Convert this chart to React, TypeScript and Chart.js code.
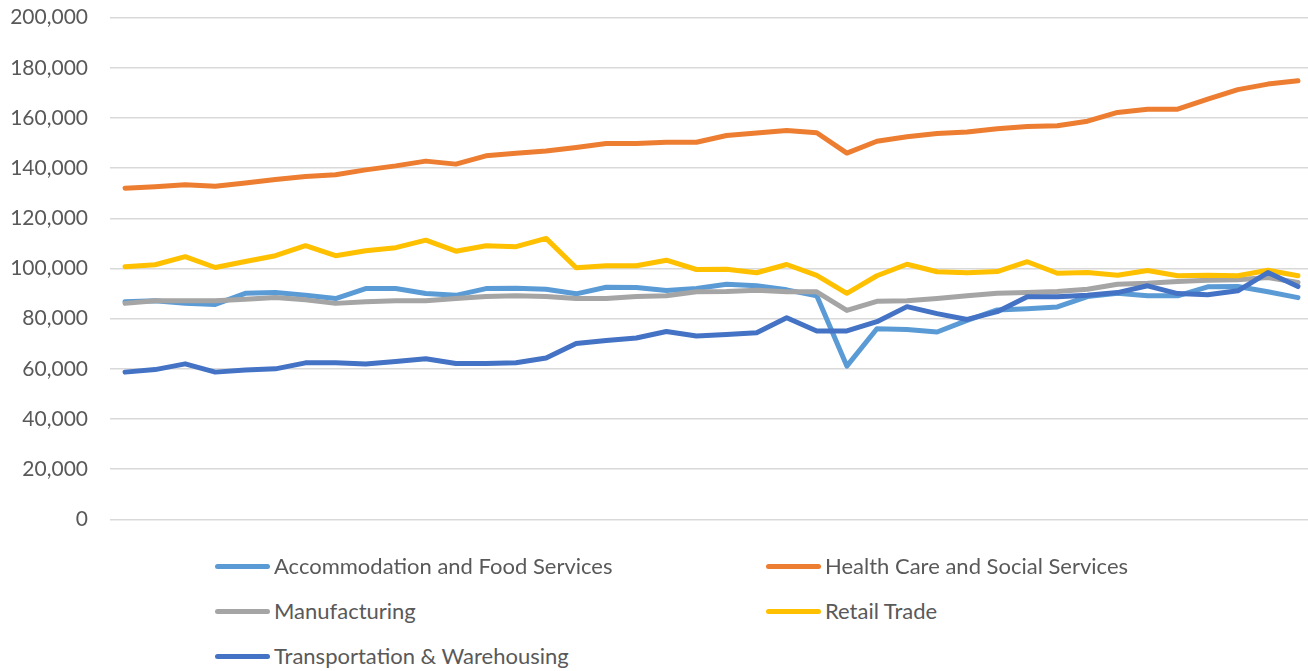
import React, { useEffect, useRef } from "react";
import { Chart, registerables } from "chart.js";

Chart.register(...registerables);

const quarters: string[] = [
  "2014 Q2", "2014 Q3", "2014 Q4", "2015 Q1", "2015 Q2", "2015 Q3", "2015 Q4", "2016 Q1",
  "2016 Q2", "2016 Q3", "2016 Q4", "2017 Q1", "2017 Q2", "2017 Q3", "2017 Q4", "2018 Q1",
  "2018 Q2", "2018 Q3", "2018 Q4", "2019 Q1", "2019 Q2", "2019 Q3", "2019 Q4", "2020 Q1",
  "2020 Q2", "2020 Q3", "2020 Q4", "2021 Q1", "2021 Q2", "2021 Q3", "2021 Q4", "2022 Q1",
  "2022 Q2", "2022 Q3", "2022 Q4", "2023 Q1", "2023 Q2", "2023 Q3", "2023 Q4", "2024 Q1",
];

const accommodation: number[] = [
  86700, 87100, 86100, 85700, 90100, 90400, 89300, 88000, 92000, 92000,
  90000, 89300, 92000, 92100, 91700, 89900, 92500, 92400, 91200, 92000,
  93700, 93100, 91500, 89100, 61100, 76000, 75700, 74700, 79300, 83500,
  84000, 84700, 88800, 90100, 89100, 89100, 92700, 92800, 90700, 88400,
];

const healthCare: number[] = [
  132000, 132600, 133400, 132800, 134100, 135500, 136700, 137400, 139300, 140900,
  142800, 141600, 144900, 145900, 146800, 148200, 149800, 149800, 150300, 150300,
  153000, 154000, 155000, 154100, 146000, 150700, 152500, 153800, 154400, 155700,
  156600, 156900, 158700, 162200, 163500, 163500, 167500, 171300, 173500, 174800,
];

const manufacturing: number[] = [
  86100, 87100, 87100, 87100, 87700, 88400, 87500, 86100, 86700, 87100,
  87100, 88000, 88800, 89100, 88800, 88000, 88000, 88800, 89100, 90700,
  90800, 91300, 90700, 90700, 83300, 86900, 87100, 88000, 89100, 90100,
  90400, 90800, 91700, 93700, 94100, 94800, 95300, 95500, 96400, 94400,
];

const retail: number[] = [
  100700, 101500, 104700, 100400, 102800, 105100, 109100, 105100, 107100, 108300,
  111300, 106900, 109100, 108700, 112000, 100300, 101100, 101100, 103300, 99600,
  99700, 98300, 101600, 97300, 90100, 97100, 101700, 98700, 98300, 98800,
  102700, 98100, 98400, 97300, 99200, 97100, 97300, 97100, 99300, 97100,
];

const transportation: number[] = [
  58700, 59700, 62000, 58700, 59500, 60000, 62400, 62400, 61900, 62900,
  64000, 62100, 62100, 62400, 64300, 70100, 71300, 72300, 74900, 73100,
  73700, 74400, 80400, 75100, 75100, 78800, 84800, 82000, 79700, 82800,
  88700, 88700, 89300, 90400, 93100, 90000, 89500, 91100, 98400, 92800,
];

const yTicks = { min: 0, max: 200000, step: 20000 };

const seriesNames: string[] = [
  "Accommodation and Food Services",
  "Health Care and Social Services",
  "Manufacturing",
  "Retail Trade",
  "Transportation & Warehousing",
];
const seriesColors: string[] = ["#5B9BD5", "#ED7D31", "#A5A5A5", "#FFC000", "#4472C4"];
const seriesData: number[][] = [accommodation, healthCare, manufacturing, retail, transportation];

const FONT = "Lato, 'Liberation Sans', sans-serif";
const TEXT = "#595959";

export default function App() {
  const ref = useRef<HTMLCanvasElement | null>(null);

  useEffect(() => {
    if (!ref.current) return;
    const chart = new Chart(ref.current, {
      type: "line",
      data: {
        labels: quarters,
        datasets: seriesNames.map((name, i) => ({
          label: name,
          data: seriesData[i],
          borderColor: seriesColors[i],
          backgroundColor: seriesColors[i],
          borderWidth: 5,
          borderCapStyle: "round" as const,
          borderJoinStyle: "round" as const,
          pointRadius: 0,
          pointHoverRadius: 0,
          tension: 0,
          fill: false,
          order: seriesNames.length - i,
        })),
      },
      options: {
        responsive: false,
        animation: false,
        devicePixelRatio: 1,
        layout: { padding: { top: 0, bottom: 8, left: 0, right: 0 } },
        plugins: {
          legend: { display: false },
          tooltip: { enabled: false },
        },
        scales: {
          x: {
            display: false,
            offset: true,
            grid: { display: false },
          },
          y: {
            min: yTicks.min,
            max: yTicks.max,
            afterFit: (scale: any) => {
              scale.width = 110;
            },
            border: { display: false },
            grid: { color: "#D9D9D9", lineWidth: 1.5, drawTicks: false },
            ticks: {
              stepSize: yTicks.step,
              padding: 22,
              color: TEXT,
              font: { family: FONT, size: 21 },
              callback: (v: any) => Number(v).toLocaleString("en-US"),
            },
          },
        },
      },
    });
    return () => chart.destroy();
  }, []);

  const legendPos = [
    { x: 215, y: 566 },
    { x: 766, y: 566 },
    { x: 215, y: 611 },
    { x: 766, y: 611 },
    { x: 215, y: 656 },
  ];

  return (
    <div
      style={{
        position: "fixed",
        left: 0,
        top: 0,
        width: 1308,
        height: 671,
        background: "#ffffff",
        overflow: "hidden",
      }}
    >
      <canvas
        ref={ref}
        width={1313}
        height={571}
        style={{ display: "block", position: "absolute", left: 0, top: -17 }}
      />
      {seriesNames.map((name, i) => (
        <div
          key={name}
          style={{
            position: "absolute",
            left: legendPos[i].x,
            top: legendPos[i].y - 14,
            height: 28,
            display: "flex",
            alignItems: "center",
            whiteSpace: "nowrap",
          }}
        >
          <div
            style={{
              width: 55,
              height: 5,
              borderRadius: 3,
              background: seriesColors[i],
              marginRight: 4,
            }}
          />
          <span style={{ fontFamily: FONT, fontSize: 22, color: TEXT, lineHeight: "28px" }}>{name}</span>
        </div>
      ))}
    </div>
  );
}
